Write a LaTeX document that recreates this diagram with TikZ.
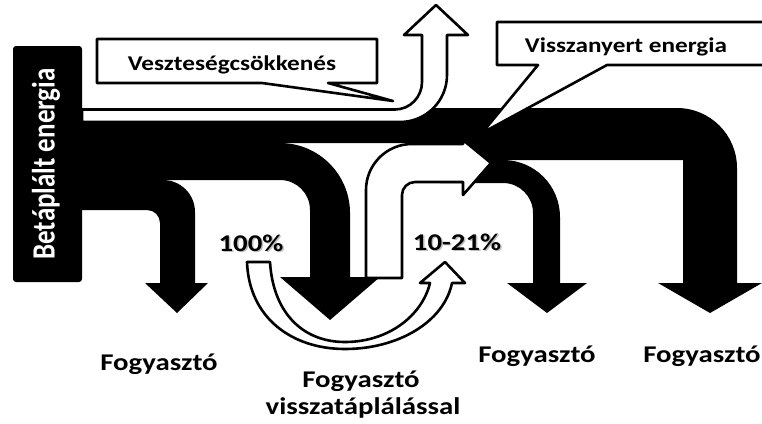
\documentclass[tikz,border=0pt]{standalone}
\usepackage{fontspec}
\newfontfamily\cf{Carlito}[FakeStretch=1.2]
\newfontfamily\cfn{Carlito}
\begin{document}
\begin{tikzpicture}[x=1pt,y=-1pt,line join=round,
  outl/.style={fill=white,draw=black,line width=2.6pt},
  lbl/.style={font=\cf\bfseries\fontsize{24}{24}\selectfont,anchor=base,inner sep=0pt},
  bub/.style={font=\cf\bfseries\fontsize{21}{21}\selectfont,anchor=base,inner sep=0pt},
  shd/.style={lbl,text=black!55,opacity=0.45}]
\useasboundingbox (0,0) rectangle (762,423);
\clip (0,0) rectangle (762,423);
% source bar
\fill[rounded corners=3pt] (13,46) rectangle (82,282);
% band A (far right consumer)
\fill (82,108) -- (677,108) .. controls (710.1,108) and (737,134.9) .. (737,168)
  -- (737,283) -- (762,283) -- (710,313) -- (658,283) -- (683,283) -- (683,160)
  -- (440,160) -- (440,143) -- (82,143) -- cycle;
% band B (middle consumer)
\fill (82,143) -- (280,143) .. controls (318.6,143) and (350,174.4) .. (350,213)
  -- (350,277) -- (380,277) -- (330,320) -- (280,277) -- (310,277) -- (310,210)
  .. controls (310,193.4) and (296.6,180) .. (280,180) -- (82,180) -- cycle;
% band C (left consumer)
\fill (82,180) -- (163,180) .. controls (180.7,180) and (195,194.3) .. (195,212)
  -- (195,283) -- (208,283) -- (177,313) -- (145,283) -- (160,283) -- (160,223)
  .. controls (160,215.8) and (154.2,210) .. (147,210) -- (82,210) -- cycle;
% band D (third consumer)
\fill (440,160) -- (503,160) .. controls (534.5,160) and (560,185.5) .. (560,217)
  -- (560,283) -- (587,283) -- (547,313) -- (507,283) -- (533,283) -- (533,213)
  .. controls (533,196.4) and (519.6,183) .. (503,183) -- (440,183) -- cycle;
% loss arrow (white)
\draw[outl] (82,109.5) -- (395,109.5) .. controls (410,109.5) and (422,97) .. (422,82)
  -- (422,35) -- (404,35) -- (436,5) -- (468,35) -- (447,35) -- (447,75)
  .. controls (447,101) and (426,122) .. (400,122) -- (82,122) -- cycle;
% regenerated energy arrow (white)
\draw[outl] (366,278) -- (366,190) .. controls (366,164.6) and (386.6,144) .. (412,144)
  -- (463,144) -- (463,140) -- (491,163) -- (463,195) -- (463,182) -- (415,182)
  .. controls (407.8,182) and (402,187.8) .. (402,195) -- (402,278) -- cycle;
% speech bubbles
\draw[outl] (97,39) -- (377,39) -- (377,83) -- (328,83) -- (393,101) -- (262,83) -- (97,83) -- cycle;
\draw[outl] (497,22) -- (775,22) -- (775,65) -- (607,65) -- (482,133) -- (538,65) -- (497,65) -- cycle;
% curved feedback arrow
\draw[outl] (247,262) .. controls (249,318) and (292,349) .. (345,349)
  .. controls (398,349) and (444,322) .. (452,283) -- (465,283) -- (445,262) -- (420,283) -- (430,283)
  .. controls (422,316) and (388,342) .. (345,342)
  .. controls (302,342) and (273,312) .. (270,262) -- cycle;
% texts
\node[rotate=90,text=white,inner sep=0pt,font=\cfn\bfseries\fontsize{27}{27}\selectfont] (src) at (46,164) {\scalebox{1}[1.2]{Betáplált energia}};
\node[bub] (loss) at (232,70) {Veszteségcsökkenés};
\node[bub] (regen) at (626,52) {Visszanyert energia};
\node[shd] at (252.5,252.5) {100\%};
\node[lbl] (p100) at (251,251) {100\%};
\node[shd] at (458.5,251.5) {10-21\%};
\node[lbl] (p10) at (457,250) {10-21\%};
\node[lbl] (c1) at (159,370) {Fogyasztó};
\node[lbl] (c2) at (361,387) {Fogyasztó};
\node[lbl] (c2b) at (363,414) {visszatáplálással};
\node[lbl] (c3) at (537,362) {Fogyasztó};
\node[lbl] (c4) at (702,362) {Fogyasztó};
\end{tikzpicture}
\end{document}
